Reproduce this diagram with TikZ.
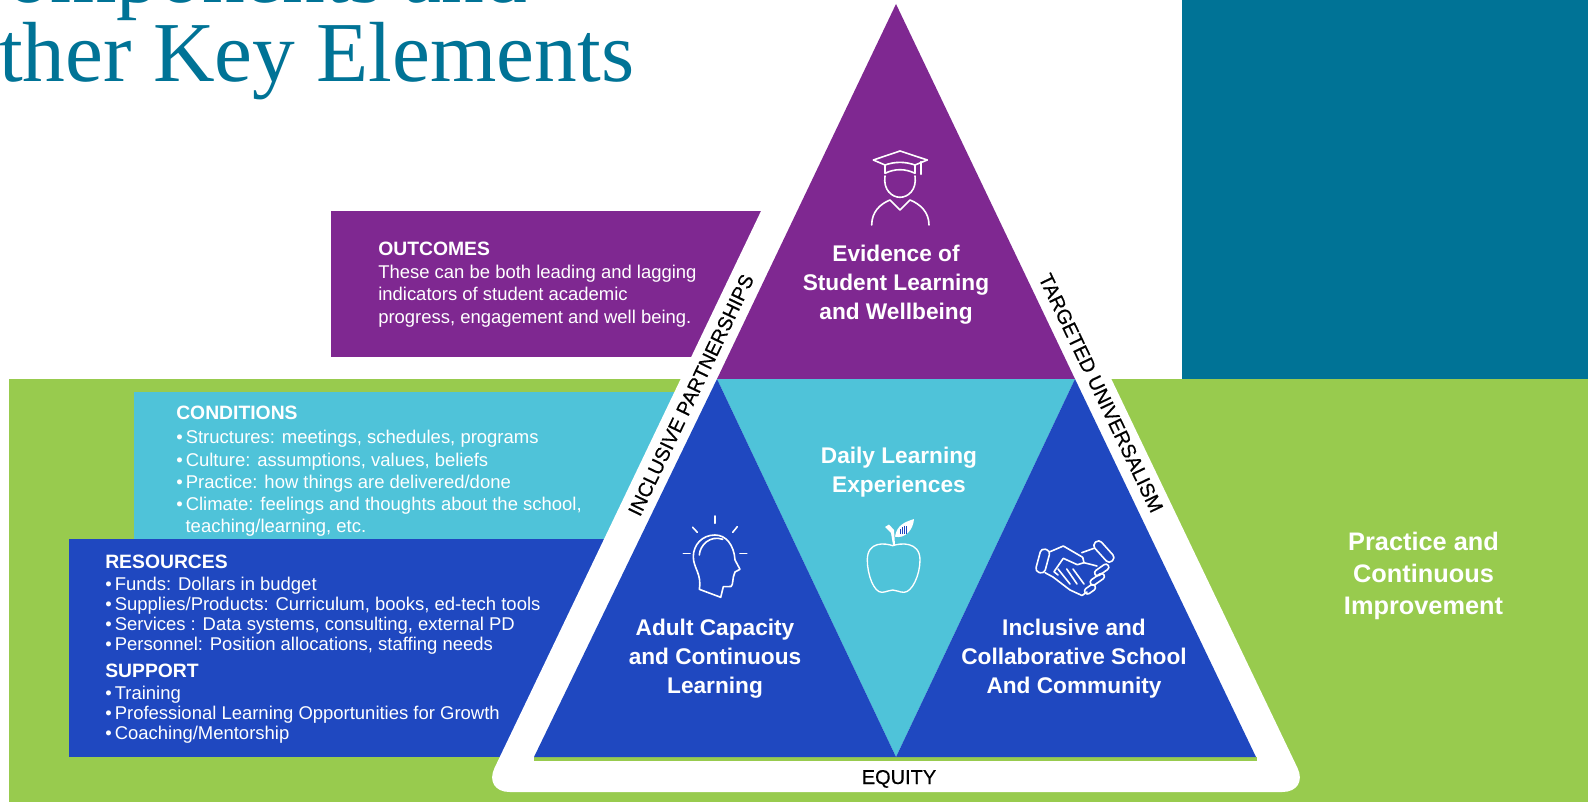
\documentclass[tikz,border=0pt]{standalone}
\usepackage{fontspec}
\setmainfont{Liberation Sans}
\newfontfamily\titlefont{Liberation Serif}
\newfontfamily\bandfont[FakeBold=0.35]{Liberation Sans}
\usepackage{tikz}

\definecolor{titleteal}{RGB}{0,115,150}
\definecolor{leafgreen}{RGB}{152,203,78}
\definecolor{deeppurple}{RGB}{127,40,145}
\definecolor{skycyan}{RGB}{79,195,217}
\definecolor{royalblue}{RGB}{31,72,192}

\newcommand{\boxhead}[1]{{\fontsize{14.5}{15}\selectfont\bfseries #1}}

\begin{document}
\begin{tikzpicture}[x=.75pt,y=-.75pt,
    titletext/.style={inner sep=0,text=titleteal,font=\titlefont\fontsize{64}{72}\selectfont},
    boxtext/.style={inner sep=0,anchor=north west,align=left,text=white},
    tritext/.style={inner sep=0,align=center,text=white,font=\bfseries\fontsize{17}{21.75}\selectfont},
    bandtext/.style={inner sep=0,text=black,font=\bandfont\fontsize{15}{17}\selectfont},
    iconline/.style={draw=white,line width=1.2pt,line cap=round,line join=round}]
    \useasboundingbox (0,0) rectangle (1588,802);

    \fill[white] (0,0) rectangle (1588,802);
    \fill[titleteal] (1182,0) rectangle (1588,379);
    \fill[leafgreen] (9,379) rectangle (1588,802);

    \node[titletext,anchor=base east] (titletop) at (527,3) {omponents and};
    \node[titletext,anchor=base west] (titlelow) at (-1,82) {ther Key Elements};

    % boxes behind the white band
    \fill[deeppurple] (331,211) rectangle (800,357);
    \fill[skycyan] (134,392) rectangle (800,539);
    \fill[royalblue] (69,539) rectangle (800,757);

    \fill[white,rounded corners=20pt] (896,-71) -- (1309,792) -- (483,792) -- cycle;

    \fill[leafgreen] (533.5,757) rectangle (1257,761);
    \fill[deeppurple] (896,4) -- (1075,379) -- (717,379) -- cycle;
    \fill[skycyan] (717,379) -- (1075,379) -- (896,757) -- cycle;
    \fill[royalblue] (717,379) -- (896,757) -- (534,757) -- cycle;
    \fill[royalblue] (1075,379) -- (1256,757) -- (896,757) -- cycle;

    \node[boxtext,font=\fontsize{13.85}{16.9}\selectfont] (outcomes) at (378,242) {\boxhead{OUTCOMES}\\
        These can be both leading and lagging\\
        indicators of student academic\\
        progress, engagement and well being.};
    \node[boxtext,font=\fontsize{13.85}{16.6}\selectfont] (conditions) at (176,406) {\boxhead{CONDITIONS}\\[1.5pt]
        •\,Structures: meetings, schedules, programs\\
        •\,Culture: assumptions, values, beliefs\\
        •\,Practice: how things are delivered/done\\
        •\,Climate: feelings and thoughts about the school,\\
        \hspace{7pt}teaching/learning, etc.};
    \node[boxtext,font=\fontsize{13.85}{15}\selectfont] (resources) at (105,555) {\boxhead{RESOURCES}\\[1.5pt]
        •\,Funds: Dollars in budget\\
        •\,Supplies/Products: Curriculum, books, ed-tech tools\\
        •\,Services : Data systems, consulting, external PD\\
        •\,Personnel: Position allocations, staffing needs\\[5pt]
        \boxhead{SUPPORT}\\[1.5pt]
        •\,Training\\
        •\,Professional Learning Opportunities for Growth\\
        •\,Coaching/Mentorship};

    \node[tritext] (evidence) at (896,284.5) {Evidence of\\Student Learning\\and Wellbeing};
    \node[tritext] (daily) at (899,472) {Daily Learning\\Experiences};
    \node[tritext] (adult) at (715,659) {Adult Capacity\\and Continuous\\Learning};
    \node[tritext] (inclusive) at (1074,659) {Inclusive and\\Collaborative School\\And Community};
    \node[tritext,font=\bfseries\fontsize{19}{24}\selectfont] (practice) at (1423.5,576) {Practice and\\Continuous\\Improvement};

    \node[bandtext,rotate=64.4] (inclband) at (691,395) {INCLUSIVE PARTNERSHIPS};
    \node[bandtext,rotate=-64.4] (targband) at (1101,393) {TARGETED UNIVERSALISM};
    \node[bandtext,anchor=base] (equity) at (899,784) {EQUITY};

    % graduate
    \draw[iconline] (873.3,160) -- (900,151) -- (927.3,160) -- (915,165) .. controls (905,161.5) and (895,161.5) .. (885,165) -- cycle;
    \draw[iconline] (885,165) -- (885,173.3) .. controls (895,168.5) and (905,168.5) .. (915,173.3) -- (915,165);
    \draw[iconline] (921,161.7) -- (921,174.3);
    \draw[iconline] (885,176) .. controls (883,190) and (892,197.3) .. (900,197.3) .. controls (908,197.3) and (917,190) .. (915,176);
    \draw[iconline] (871.7,225) .. controls (871.7,212) and (880,204) .. (890,200) -- (900,210) -- (910,200) .. controls (920,204) and (929,212) .. (929,225);

    % head with bulb rays
    \foreach \xa/\ya/\xb/\yb in {715/516/715/523.3,692.7/527.3/697.3/532.3,737.3/526.7/732.7/532.3,683.3/553.3/690/553.3,740/553.3/746.7/553.3}
    {
        \draw[iconline] (\xa,\ya) -- (\xb,\yb);
    }
    \draw[iconline] (699.3,589.3) -- (720.7,597.3) -- (723.3,586.7) -- (731,586.5) .. controls (733.5,585) and (732,578) .. (735,572) -- (740,569.3) -- (735,560) .. controls (734,545) and (726,535) .. (715,535) .. controls (702,535) and (693.3,545) .. (693.3,556.7) .. controls (693.3,568) and (702,574) .. (699.3,589.3);
    \draw[iconline] (699.3,555) .. controls (700,545) and (710,535) .. (722.7,539.3);

    % apple
    \draw[iconline,line width=1pt] (892.7,545.7) .. controls (885,543) and (867.3,541) .. (867.3,560) .. controls (867.3,575) and (874,592.3) .. (881.7,592.3) .. controls (886,592.3) and (889,590) .. (892.7,590) .. controls (896.5,590) and (899,592.3) .. (904,592.3) .. controls (912,592.3) and (920,575) .. (920,560) .. controls (920,541) and (900,543) .. (892.7,545.7) -- cycle;
    \fill[white] (893,545) -- (891,533) -- (885,527) -- (889,524.5) -- (894,530) -- (895,545) -- cycle;
    \fill[white] (895,536.7) .. controls (896.7,525) and (905,522) .. (914,519) .. controls (913.3,530) and (905,539) .. (895,536.7) -- cycle;
    \foreach \x/\y in {900.5/529,902.5/527,904.5/525.5,906.5/526}
    {
        \draw[royalblue,line width=.7pt] (\x,\y) -- (\x,533.5);
    }

    % handshake
    \draw[iconline,rounded corners=3pt,rotate around={-15:(1042.7,561)}] (1038,549) rectangle (1047.5,573);
    \draw[iconline,rounded corners=3pt,rotate around={42:(1104,551.7)}] (1099.5,539) rectangle (1108.5,564);
    \foreach \cx/\cy/\rad in {1101.7/570/8,1097.3/579.3/8,1090/589.3/6}
    {
        \draw[iconline,rounded corners=2.2pt,rotate around={35:(\cx,\cy)}] (\cx-\rad,\cy-3) rectangle (\cx+\rad,\cy+3);
    }
    \draw[iconline] (1050,551.7) -- (1063.3,546) -- (1082.7,557.3) -- (1084,562.7) -- (1077.3,564.7) -- (1063.3,558.3) -- (1054,571.7) -- (1058,575);
    \draw[iconline] (1081.7,552.7) -- (1094,548.3);
    \draw[iconline] (1045,572.7) -- (1053,577) -- (1070,590) -- (1082,595.5) -- (1087,592);
    \draw[iconline] (1084,562.7) -- (1097,566);
    \foreach \xa/\xb in {1058/1070,1066.7/1077,1073/1084}
    {
        \draw[iconline] (\xa,569) -- (\xb,584);
    }
\end{tikzpicture}
\end{document}
